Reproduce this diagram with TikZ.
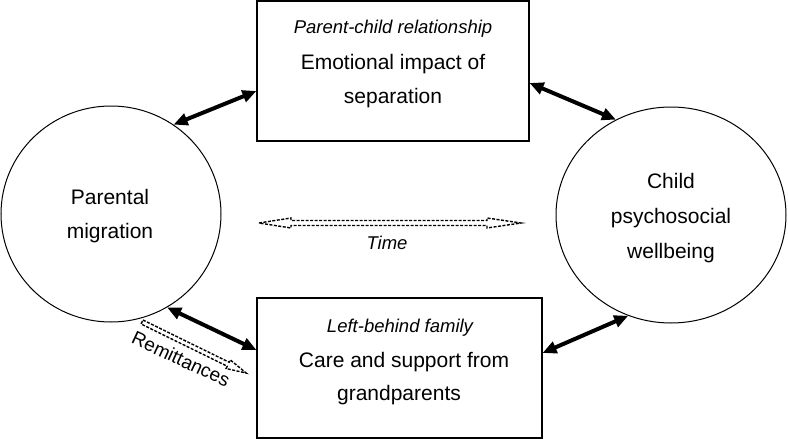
\documentclass[tikz,border=0pt]{standalone}
\usepackage{fontspec}
\setmainfont{Liberation Sans}
\usetikzlibrary{shapes.geometric,arrows.meta,calc}
\begin{document}
\begin{tikzpicture}[x=1pt,y=-1pt,
  circ/.style={ellipse,draw,line width=1pt,inner sep=0pt},
  boxnode/.style={rectangle,draw,line width=1.1pt,inner sep=0pt},
  lbl/.style={anchor=base,inner sep=0pt,font=\fontsize{21}{25}\selectfont},
  ilbl/.style={anchor=base,inner sep=0pt,font=\fontsize{18.5}{22}\selectfont\itshape},
  biarrow/.style={line width=4pt,{Triangle[length=14pt,width=12pt]}-{Triangle[length=14pt,width=12pt]}},
  hollow/.style={line width=1.4pt,dash pattern=on 3pt off 1.5pt,line join=miter}]
\useasboundingbox (0,0) rectangle (788,439);

% main shapes
\node[circ,minimum width=220pt,minimum height=216pt] (L) at (111,214) {};
\node[circ,minimum width=230pt,minimum height=216pt] (R) at (671,215) {};
\node[boxnode,minimum width=272pt,minimum height=140pt] (top) at (393,71) {};
\node[boxnode,minimum width=285pt,minimum height=140pt] (bot) at (399.5,368) {};

% texts
\node[ilbl] (t1) at (393,34) {Parent-child relationship};
\node[lbl] (t2) at (393,69) {Emotional impact of};
\node[lbl] (t3) at (393,103) {separation};
\node[ilbl] (b1) at (400,332) {Left-behind family};
\node[lbl] (b2) at (404,367) {Care and support from};
\node[lbl] (b3) at (399,400) {grandparents};
\node[lbl] (l1) at (110,204) {Parental};
\node[lbl] (l2) at (110,238) {migration};
\node[lbl] (r1) at (671,188) {Child};
\node[lbl] (r2) at (671,223) {psychosocial};
\node[lbl] (r3) at (671,258) {wellbeing};
\node[ilbl] (time) at (387,249) {Time};
\node[inner sep=0pt,rotate=-25,font=\fontsize{19}{22}\selectfont] (rem) at (181,359) {Remittances};

% black double arrows
\draw[biarrow] (L.55) -- ([yshift=-20pt]top.west);
\draw[biarrow] ([yshift=-12pt]top.east) -- (R.120);
\draw[biarrow] (L.-59) -- ([yshift=18pt]bot.west);
\draw[biarrow] ([yshift=15pt]bot.east) -- (R.-113);

% hollow dashed time arrow
\coordinate (ta) at (259,223);
\coordinate (tb) at (521,223);
\draw[hollow] (ta) -- ++(32,-5) -- ++(0,2.5) -- ($(tb)+(-34,-2.5)$) -- ++(0,-2.5)
  -- (tb) -- ++(-34,5) -- ++(0,-2.5) -- ($(ta)+(32,2.5)$) -- ++(0,2.5) -- cycle;

% hollow dashed remittances arrow
\coordinate (ra) at (142,322);
\begin{scope}[shift={(ra)},rotate=-26.1]
\draw[hollow] (0,-2.2) -- (96,-2.2) -- (96,-4.8) -- (116,0) -- (96,4.8) -- (96,2.2) -- (0,2.2) -- cycle;
\end{scope}
\end{tikzpicture}
\end{document}
